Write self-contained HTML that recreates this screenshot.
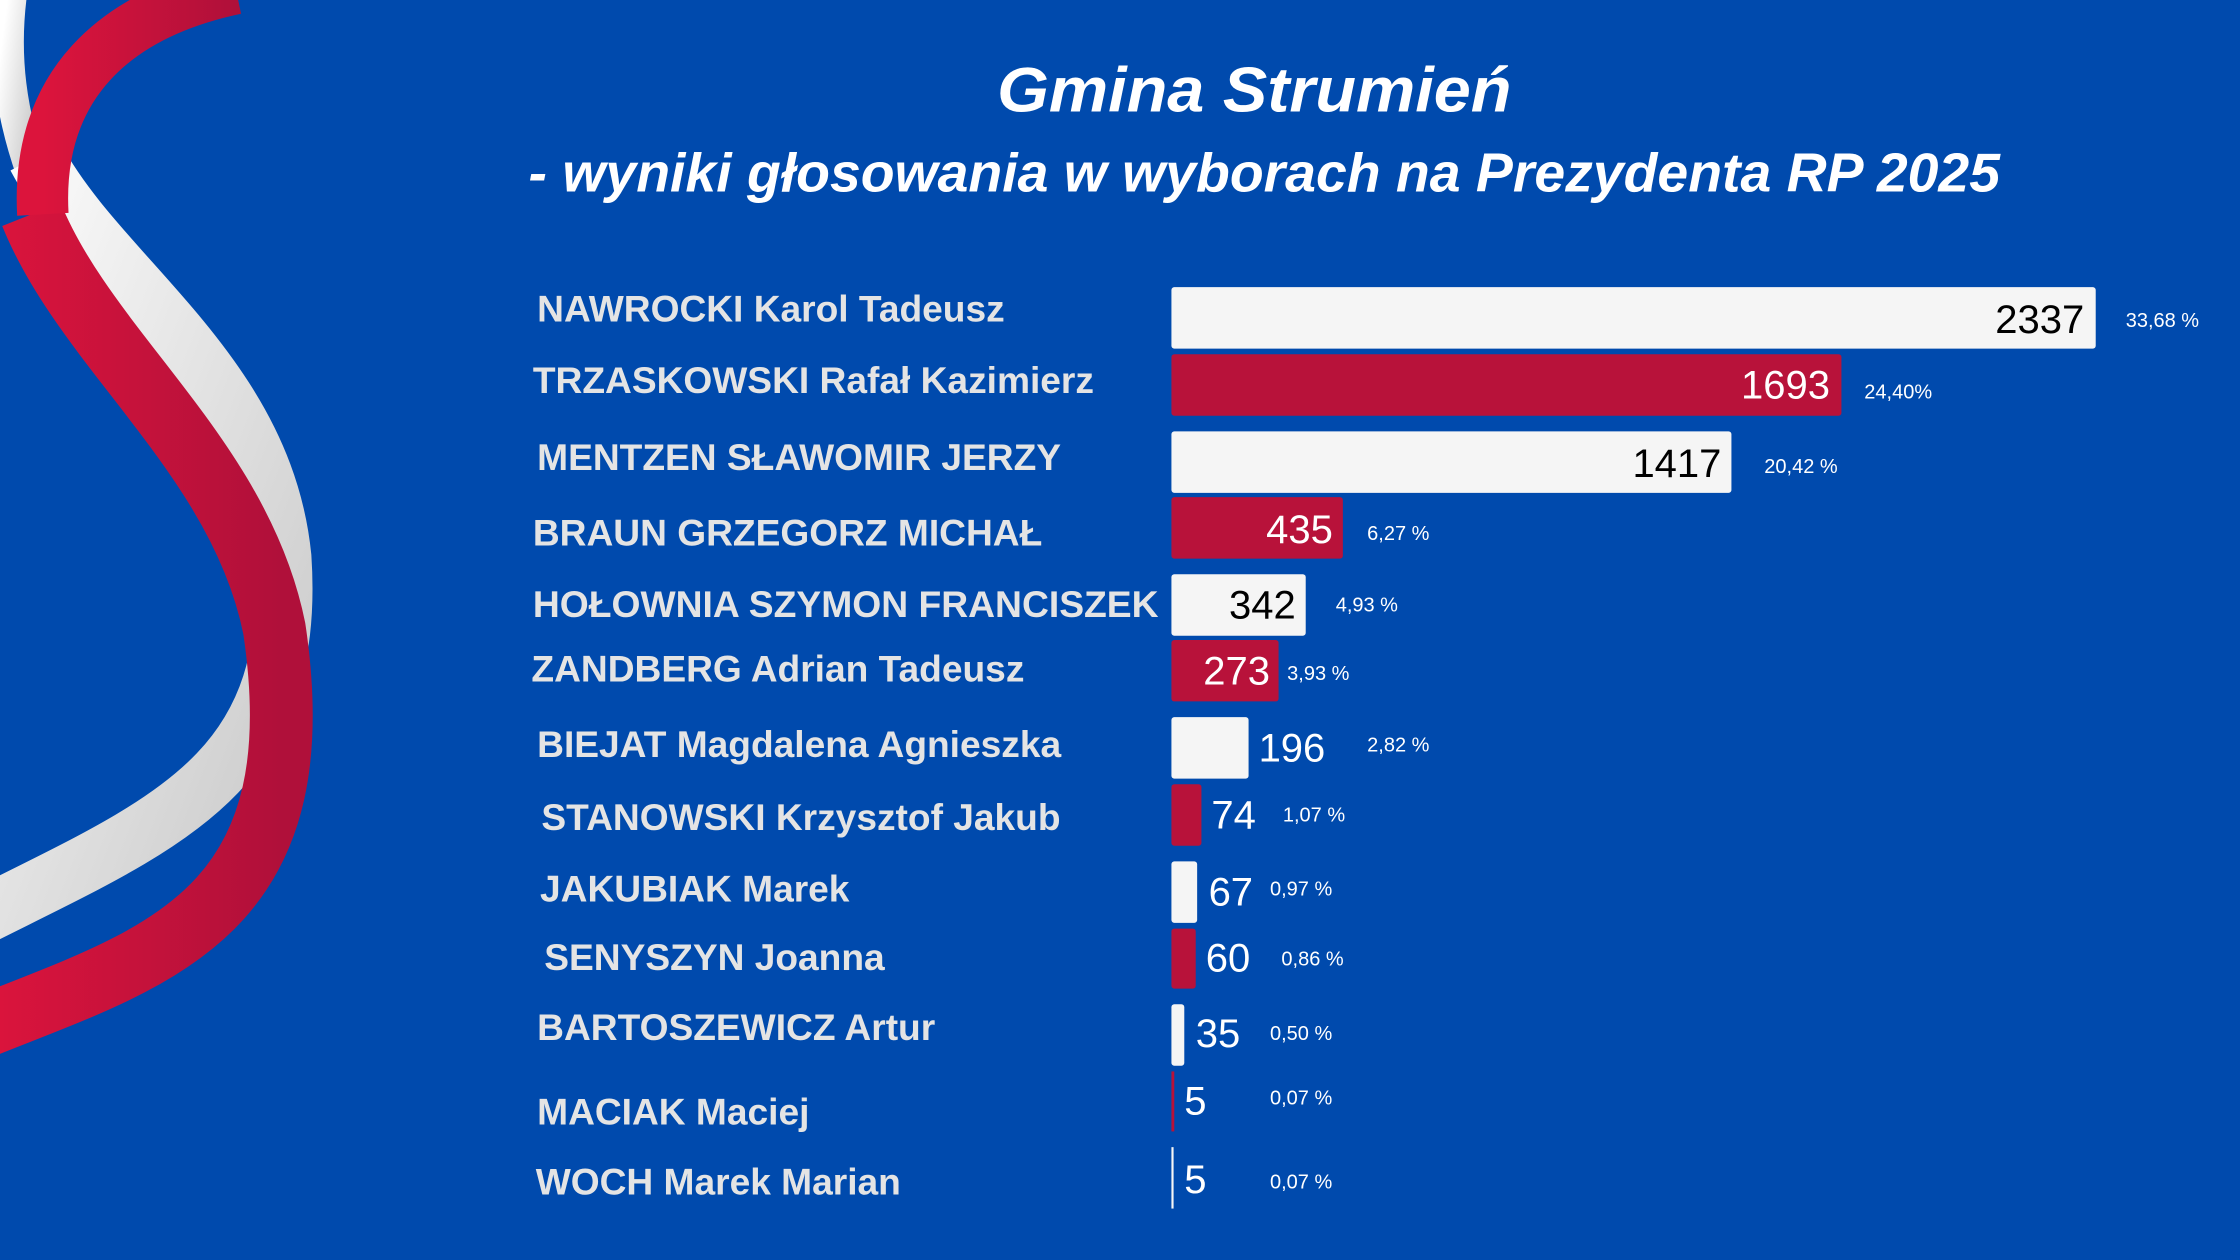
<!DOCTYPE html>
<html><head><meta charset="utf-8"><style>
html,body{margin:0;padding:0;background:#004aad;}
svg{display:block;}
text{font-family:"Liberation Sans","DejaVu Sans",sans-serif;}
.lab{font-weight:bold;font-size:26px;fill:#e4e4e4;}
.val{font-size:28px;}
.pct{font-size:14px;fill:#fff;}
</style></head><body>
<svg width="2240" height="1260" viewBox="0 0 1568 882" xmlns="http://www.w3.org/2000/svg">
<defs>
<linearGradient id="wg" x1="0" y1="0" x2="1" y2="1"><stop offset="0" stop-color="#ffffff"/><stop offset="1" stop-color="#c8c8c8"/></linearGradient>
<linearGradient id="rg" x1="0" y1="0" x2="1" y2="0"><stop offset="0" stop-color="#dc143c"/><stop offset="1" stop-color="#b0103a"/></linearGradient>
</defs>
<rect width="1568" height="882" fill="#004aad"/>
<!-- ribbon -->
<path d="M8,-5 C2,40 8,80 22,120" stroke="url(#wg)" stroke-width="22" fill="none"/>
<path d="M25,110 C70,195 185,260 198,390 C208,540 120,575 -10,640" stroke="url(#wg)" stroke-width="40" fill="none"/>
<path d="M22,150 C60,245 168,320 192,440 C222,640 110,670 -10,718" stroke="url(#rg)" stroke-width="44" fill="none"/>
<path d="M165,-8 C80,10 25,60 30,150" stroke="url(#rg)" stroke-width="36" fill="none"/>
<!-- title -->
<text x="878" y="78" text-anchor="middle" font-size="44" font-weight="bold" font-style="italic" fill="#fff" textLength="360" lengthAdjust="spacingAndGlyphs">Gmina Strumień</text>
<text x="885" y="134" text-anchor="middle" font-size="38" font-weight="bold" font-style="italic" fill="#fff" textLength="1030" lengthAdjust="spacingAndGlyphs">- wyniki głosowania w wyborach na Prezydenta RP 2025</text>
<!-- labels -->
<text class="lab" x="376" y="225">NAWROCKI Karol Tadeusz</text>
<text class="lab" x="373" y="275">TRZASKOWSKI Rafał Kazimierz</text>
<text class="lab" x="376" y="329">MENTZEN SŁAWOMIR JERZY</text>
<text class="lab" x="373" y="382">BRAUN GRZEGORZ MICHAŁ</text>
<text class="lab" x="373" y="432" textLength="438" lengthAdjust="spacingAndGlyphs">HOŁOWNIA  SZYMON FRANCISZEK</text>
<text class="lab" x="372" y="477">ZANDBERG Adrian Tadeusz</text>
<text class="lab" x="376" y="530">BIEJAT Magdalena Agnieszka</text>
<text class="lab" x="379" y="581">STANOWSKI  Krzysztof Jakub</text>
<text class="lab" x="378" y="631">JAKUBIAK Marek</text>
<text class="lab" x="381" y="679">SENYSZYN Joanna</text>
<text class="lab" x="376" y="728">BARTOSZEWICZ Artur</text>
<text class="lab" x="376" y="787">MACIAK Maciej</text>
<text class="lab" x="375" y="836">WOCH Marek Marian</text>
<!-- bars -->
<g>
<rect x="820" y="201" width="647" height="43" rx="2" fill="#f5f5f5"/>
<text class="val" x="1459" y="233" text-anchor="end" fill="#000">2337</text>
<text class="pct" x="1488" y="229">33,68 %</text>

<rect x="820" y="248" width="469" height="43" rx="2" fill="#b8123a"/>
<text class="val" x="1281" y="279" text-anchor="end" fill="#fff">1693</text>
<text class="pct" x="1305" y="279">24,40%</text>

<rect x="820" y="302" width="392" height="43" rx="2" fill="#f5f5f5"/>
<text class="val" x="1205" y="334" text-anchor="end" fill="#000">1417</text>
<text class="pct" x="1235" y="331">20,42 %</text>

<rect x="820" y="348" width="120" height="43" rx="2" fill="#b8123a"/>
<text class="val" x="933" y="380" text-anchor="end" fill="#fff">435</text>
<text class="pct" x="957" y="378">6,27 %</text>

<rect x="820" y="402" width="94" height="43" rx="2" fill="#f5f5f5"/>
<text class="val" x="907" y="433" text-anchor="end" fill="#000">342</text>
<text class="pct" x="935" y="428">4,93 %</text>

<rect x="820" y="448" width="75" height="43" rx="2" fill="#b8123a"/>
<text class="val" x="889" y="479" text-anchor="end" fill="#fff">273</text>
<text class="pct" x="901" y="476">3,93 %</text>

<rect x="820" y="502" width="54" height="43" rx="2" fill="#f5f5f5"/>
<text class="val" x="881" y="533" fill="#fff">196</text>
<text class="pct" x="957" y="526">2,82 %</text>

<rect x="820" y="549" width="21" height="43" rx="2" fill="#b8123a"/>
<text class="val" x="848" y="580" fill="#fff">74</text>
<text class="pct" x="898" y="575">1,07 %</text>

<rect x="820" y="603" width="18" height="43" rx="2" fill="#f5f5f5"/>
<text class="val" x="846" y="634" fill="#fff">67</text>
<text class="pct" x="889" y="627">0,97 %</text>

<rect x="820" y="650" width="17" height="42" rx="2" fill="#b8123a"/>
<text class="val" x="844" y="680" fill="#fff">60</text>
<text class="pct" x="897" y="676">0,86 %</text>

<rect x="820" y="703" width="9" height="43" rx="2" fill="#f5f5f5"/>
<text class="val" x="837" y="733" fill="#fff">35</text>
<text class="pct" x="889" y="728">0,50 %</text>

<rect x="820" y="750" width="2" height="42" fill="#b8123a"/>
<text class="val" x="829" y="780" fill="#fff">5</text>
<text class="pct" x="889" y="773">0,07 %</text>

<rect x="820" y="803" width="1.5" height="43" fill="#f5f5f5"/>
<text class="val" x="829" y="835" fill="#fff">5</text>
<text class="pct" x="889" y="832">0,07 %</text>
</g>
</svg>
</body></html>
